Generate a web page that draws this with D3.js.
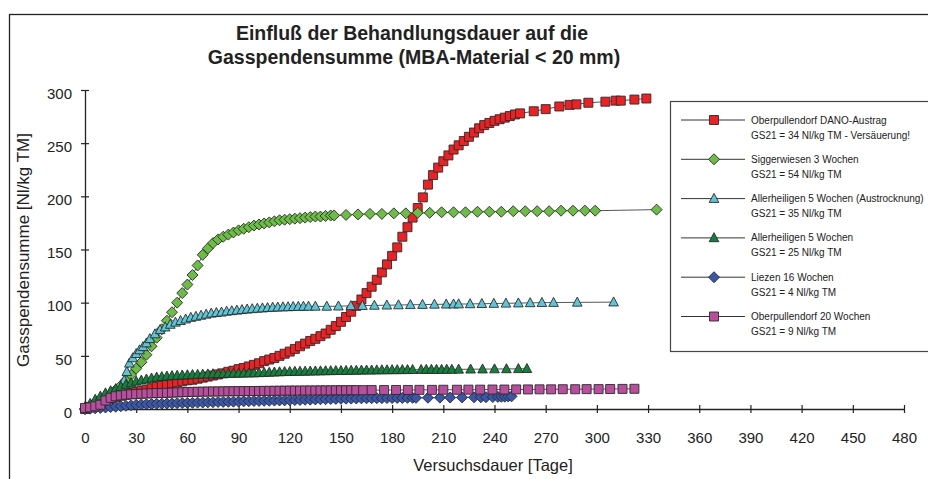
<!DOCTYPE html>
<html>
<head>
<meta charset="utf-8">
<script src="https://cdn.jsdelivr.net/npm/d3@7"></script>
<style>
  body { margin: 0; background: #fff; }
  text { font-family: "Liberation Sans", Arial, sans-serif; fill: #222; }
</style>
</head>
<body>
<div id="chart"></div>
<script>
// days / Nl per kg TM
var danoAustrag = [[0,0],[3,2],[6,4],[9,6],[12,8],[15,9.5],[18,11],[21,12.5],[24,13.5],[27,15],[30,16],[33,17],[36,18],[39,19.5],[42,21],[45,22],[48,23],[51,24],[54,25],[57,26],[60,27],[63,27.5],[66,28.5],[69,29.5],[72,30.5],[75,31.5],[78,32.5],[81,33.5],[84,35],[87,36],[90,37.5],[93,38.5],[96,40],[99,41.5],[102,43],[105,45],[108,46.5],[111,48],[114,50],[117,52],[120,54],[123,56.5],[126,59],[129,61.5],[132,64],[135,66],[138,68.5],[141,71],[144,74.5],[147,78],[150,82],[153,86.5],[156,91.5],[159,97],[162,103],[165,109],[168,115],[171,121.5],[174,128.5],[177,136],[180,144],[183,152],[186,162],[189,171],[192,180],[195,189],[198,199],[201,211],[204,220],[207,227],[210,233],[213,238.5],[216,244],[219,248],[222,252],[225,256],[228,260],[231,264],[234,267],[237,269],[240,271],[243,272.5],[246,274],[249,275.5],[252,277],[255,278],[263,280],[270,282],[278,284.5],[284,286],[288,286.5],[295,288],[305,289],[311,290],[314,290],[322,291],[329,292]];
var sigger3 = [[0,0],[3,2],[6,5],[9,8],[12,11],[15,14],[18,18],[21,22],[24,27],[27,32],[30,38],[33,44],[36,51],[39,59],[42,67],[45,75],[48,83],[51,91],[54,100],[57,109],[60,117],[63,126],[66,135],[69,145],[72,151],[75,156],[78,159.5],[81,162],[84,164],[87,166],[90,168],[93,169.5],[96,171],[99,172.5],[102,173.5],[105,174.5],[108,175.5],[111,176.5],[114,177.5],[117,178],[120,178.5],[123,179],[126,179.5],[129,180],[132,180.5],[135,181],[138,181],[141,181.5],[144,182],[146,182],[153,182.5],[160,183],[167,183.5],[174,183.5],[181,184],[188,184],[195,184.5],[202,184.5],[209,185],[216,185],[223,185],[230,185.5],[237,185.5],[244,185.5],[251,186],[258,186],[265,186],[272,186],[279,186.5],[286,186.5],[293,186.5],[299,186.5],[335,187.5]];
var allerAustr = [[20,16],[21.5,19.5],[23,27],[24.5,35],[26,43],[28,48],[30,52],[32,55.5],[34,58.5],[36,62],[38,66],[41,70.5],[44,74.5],[47,77],[50,79.5],[53,81.5],[56,83],[59,84.5],[62,86],[65,87],[68,88],[71,89],[74,90],[77,90.5],[80,91],[83,91.8],[86,92.3],[89,92.8],[92,93.3],[95,93.8],[98,94.2],[101,94.6],[104,94.9],[107,95.2],[110,95.5],[113,95.7],[116,95.9],[119,96],[122,96.2],[125,96.3],[128,96.4],[131,96.5],[135,96.5],[141.7,96.5],[148.5,96.7],[155.8,97],[162.6,97.2],[169.6,97.4],[176.9,97.6],[183.7,97.8],[190.7,98],[197.8,98.2],[204.8,98.4],[211.7,98.5],[216,98.6],[219,98.7],[225.7,98.8],[232.6,99],[239.6,99.2],[246.7,99.4],[254,99.6],[260.9,99.8],[267.8,100],[274.6,100.1],[288.5,100.3],[309.8,100.5]];
var aller5 = [[0,2],[3,5],[6,9],[9,12],[12,15],[15,17],[18,19],[21,21],[24,23],[27,24.5],[30,26],[33,27],[36,28],[39,29],[42,29.8],[45,30.3],[48,30.8],[51,31.2],[54,31.5],[57,31.8],[60,32],[63,32.2],[66,32.4],[69,32.6],[72,32.8],[75,33],[78,33.1],[81,33.2],[84,33.3],[87,33.4],[90,33.5],[93,33.6],[96,33.7],[99,33.8],[102,34],[105,34.2],[108,34.4],[111,34.6],[114,34.8],[117,35],[120,35.1],[123,35.2],[126,35.3],[129,35.4],[132,35.5],[135,35.6],[138,35.7],[141,35.8],[144,35.9],[147,36],[150,36],[153,36.1],[156,36.2],[159,36.3],[162,36.4],[165,36.5],[168,36.5],[171,36.6],[174,36.7],[177,36.7],[180,36.8],[183,36.8],[186,36.9],[189,36.9],[192,37],[197,37],[200,37.1],[203,37.1],[206,37.1],[209,37.1],[212,37.2],[215,37.2],[219,37.3],[226,37.4],[233,37.5],[240,37.6],[247,37.7],[254,37.8],[259,37.9]];
var liezen16 = [[0,0],[3,0.3],[6,0.6],[9,1],[12,1.4],[15,1.8],[18,2.2],[21,2.6],[24,3],[27,3.5],[30,4],[33,4.3],[36,4.5],[39,4.7],[42,4.9],[45,5],[48,5.2],[51,5.3],[54,5.5],[57,5.6],[60,5.7],[63,5.8],[66,6],[69,6.1],[72,6.3],[75,6.4],[78,6.6],[81,6.7],[84,6.8],[87,6.9],[90,7],[93,7.2],[96,7.3],[99,7.5],[102,7.6],[105,7.7],[108,7.8],[111,7.9],[114,8],[117,8.1],[120,8.3],[123,8.4],[126,8.5],[129,8.7],[132,8.8],[135,9],[138,9.1],[141,9.2],[144,9.4],[147,9.5],[150,9.6],[153,9.7],[156,9.8],[159,9.9],[162,10],[165,10.1],[168,10.1],[171,10.2],[174,10.2],[177,10.3],[180,10.3],[183,10.4],[186,10.4],[189,10.5],[192,10.5],[194,10.5],[201,10.6],[208,10.7],[214,10.8],[221,10.9],[228,11],[232,11],[235,11.1],[239,11.2],[242,11.4],[244,11.5],[246,11.6],[248,11.8],[250,11.9]];
var oberpull20 = [[0,1],[3,1.5],[6,2.5],[9,4],[12,8],[15,10.5],[18,12],[21,12.8],[24,13.4],[27,13.8],[30,14],[33,14.3],[36,14.6],[39,14.8],[42,15],[45,15],[48,15.2],[51,15.4],[54,15.6],[57,15.8],[60,16],[63,16.1],[66,16.2],[69,16.3],[72,16.4],[75,16.5],[78,16.5],[81,16.6],[84,16.7],[87,16.7],[90,16.8],[93,16.8],[96,16.9],[99,16.9],[102,17],[105,17],[108,17.1],[111,17.1],[114,17.2],[117,17.2],[120,17.3],[123,17.3],[126,17.3],[129,17.4],[132,17.4],[135,17.4],[138,17.5],[141,17.5],[144,17.5],[147,17.6],[150,17.6],[153,17.6],[156,17.7],[159,17.7],[163,17.7],[168,17.8],[175.3,17.8],[182.3,17.9],[189.2,17.9],[196,18],[203.3,18],[210,18.1],[218,18.1],[224.7,18.2],[231.6,18.2],[238.8,18.3],[245.8,18.3],[252.7,18.4],[259.6,18.4],[266.4,18.5],[273.2,18.5],[280,18.6],[287.3,18.6],[294,18.7],[301,18.7],[307.8,18.8],[315,18.9],[322,19]];

var seriesNames = ["Oberpullendorf DANO-Austrag", "Siggerwiesen 3 Wochen", "Allerheiligen 5 Wochen (Austrocknung)", "Allerheiligen 5 Wochen", "Liezen 16 Wochen", "Oberpullendorf 20 Wochen"];
var seriesGs21 = ["GS21 = 34 Nl/kg TM - Versäuerung!", "GS21 = 54 Nl/kg TM", "GS21 = 35 Nl/kg TM", "GS21 = 25 Nl/kg TM", "GS21 = 4 Nl/kg TM", "GS21 = 9 Nl/kg TM"];
var xTicks = d3.range(0, 481, 30);
var yTicks = [0, 50, 100, 150, 200, 250, 300];

var seriesData = [danoAustrag, sigger3, allerAustr, aller5, liezen16, oberpull20];
var colors = ["#ec2124", "#6cbd45", "#5cc6d6", "#13803c", "#3a56a6", "#b94e9f"];
var shapes = ["square", "diamond", "triangle", "triangle", "diamond", "square"];

var width = 928, height = 479;
var svg = d3.select('#chart').append('svg')
      .attr('width', width)
      .attr('height', height);

// outer frame, cut off at right and bottom like the picture
svg.append('rect')
      .attr('x', 9.5).attr('y', 14.5)
      .attr('width', 1000).attr('height', 1000)
      .attr('fill', 'none').attr('stroke', '#222').attr('stroke-width', 1.3);

var x = d3.scaleLinear().domain([0, 480]).range([85, 904]);
var y = d3.scaleLinear().domain([0, 300]).range([409, 90]);

// title
svg.append('text').attr('x', 412).attr('y', 40).attr('text-anchor', 'middle')
      .style('font-size', '19.5px').style('font-weight', 'bold')
      .text('Einfluß der Behandlungsdauer auf die');
svg.append('text').attr('x', 414).attr('y', 64).attr('text-anchor', 'middle')
      .style('font-size', '19.5px').style('font-weight', 'bold')
      .text('Gasspendensumme (MBA-Material < 20 mm)');

// axes
var xAxis = svg.append('g').attr('transform', 'translate(0,' + y(0) + ')')
      .call(d3.axisBottom(x).tickValues(xTicks).tickSize(4).tickPadding(19).tickSizeOuter(0));
var yAxis = svg.append('g').attr('transform', 'translate(' + x(0) + ',0)')
      .call(d3.axisLeft(y).tickValues(yTicks).tickSize(4).tickPadding(9).tickSizeOuter(0));
xAxis.selectAll('.tick line').attr('y1', -4).attr('y2', 4);
yAxis.selectAll('.tick line').attr('x1', -4).attr('x2', 4);
yAxis.selectAll('.tick text').attr('dy', '0.55em');
[xAxis, yAxis].forEach(function (a) {
      a.select('.domain').attr('stroke', '#222').attr('stroke-width', 1.3);
      a.selectAll('.tick line').attr('stroke', '#222').attr('stroke-width', 1.2);
      a.selectAll('.tick text').style('font-size', '15px').style('font-family', '"Liberation Sans", Arial, sans-serif').attr('fill', '#222');
});

svg.append('text').attr('x', 493).attr('y', 471).attr('text-anchor', 'middle')
      .style('font-size', '16.5px').text('Versuchsdauer [Tage]');
svg.append('text').attr('transform', 'translate(29,250) rotate(-90)').attr('text-anchor', 'middle')
      .style('font-size', '17px').text('Gasspendensumme [Nl/kg TM]');

// marker shapes
function marker(shape) {
      if (shape == 'square') return 'M-4.5,-4.5H4.5V4.5H-4.5Z';
      if (shape == 'diamond') return 'M0,-5.5L5.5,0L0,5.5L-5.5,0Z';
      return 'M0,-5.2L4.8,3.8H-4.8Z';
}

var line = d3.line().x(function (d) { return x(d[0]); }).y(function (d) { return y(d[1]); });

var plot = svg.append('g');
seriesData.forEach(function (data, i) {
      var g = plot.append('g');
      g.append('path').attr('d', line(data))
            .attr('fill', 'none').attr('stroke', '#555').attr('stroke-width', 1);
      g.selectAll('path.m').data(data).enter().append('path')
            .attr('class', 'm')
            .attr('transform', function (d) { return 'translate(' + x(d[0]) + ',' + y(d[1]) + ')'; })
            .attr('d', marker(shapes[i]))
            .attr('fill', colors[i])
            .attr('stroke', '#2a2a2a').attr('stroke-width', 0.9);
});

// legend
var legend = svg.append('g');
legend.append('rect').attr('x', 670.5).attr('y', 101.5).attr('width', 400).attr('height', 250)
      .attr('fill', '#fff').attr('stroke', '#444').attr('stroke-width', 1.2);
seriesNames.forEach(function (name, i) {
      var ly = 120 + i * 39.3;
      legend.append('line').attr('x1', 681).attr('x2', 745).attr('y1', ly).attr('y2', ly)
            .attr('stroke', '#333').attr('stroke-width', 1);
      legend.append('path').attr('transform', 'translate(714,' + ly + ')')
            .attr('d', marker(shapes[i])).attr('fill', colors[i])
            .attr('stroke', '#2a2a2a').attr('stroke-width', 0.9);
      legend.append('text').attr('x', 751).attr('y', ly + 3.5).style('font-size', '10px').text(name);
      legend.append('text').attr('x', 751).attr('y', ly + 18.5).style('font-size', '10px').text(seriesGs21[i]);
});
</script>
</body>
</html>
